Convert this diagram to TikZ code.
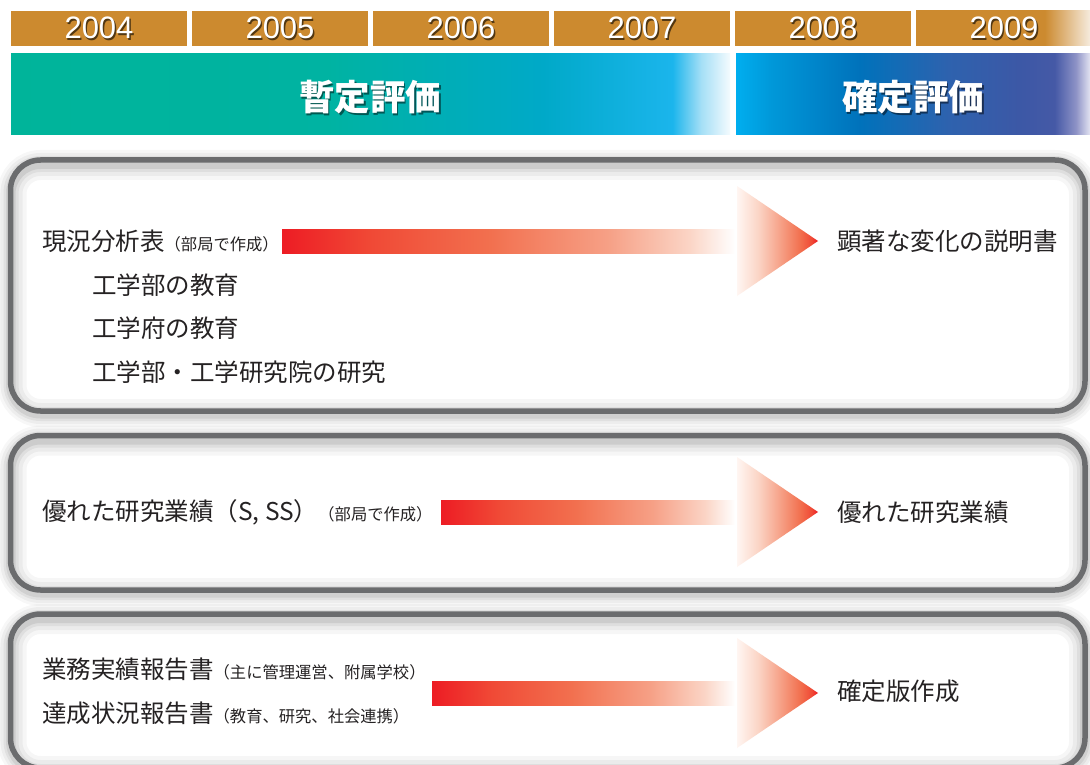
\documentclass[tikz,border=0pt]{standalone}
\usepackage{fontspec}
\setmainfont{Noto Sans CJK JP}
\newfontfamily\yearfont{Liberation Sans}
\definecolor{orangebar}{HTML}{CC8A2F}
\definecolor{txt}{HTML}{252223}
\definecolor{frame}{HTML}{6B6C6E}
\definecolor{redA}{HTML}{ED1C24}
\definecolor{tealA}{HTML}{00B49A}
\definecolor{tealB}{HTML}{00B3A2}
\definecolor{tealC}{HTML}{00A9C8}
\definecolor{cyanA}{HTML}{1BB5EC}
\definecolor{cyanB}{HTML}{A5DFF6}
\definecolor{cyanC}{HTML}{F4FBFE}
\definecolor{blueA}{HTML}{00AEEF}
\definecolor{blueB}{HTML}{0098D9}
\definecolor{blueC}{HTML}{0072BB}
\definecolor{blueD}{HTML}{2E62AE}
\definecolor{blueE}{HTML}{3C58A6}
\definecolor{blueF}{HTML}{4559A6}
\definecolor{blueG}{HTML}{8D92C6}
\definecolor{blueH}{HTML}{E2E3F1}
\definecolor{orangefade}{HTML}{F6EBDD}
\definecolor{redB}{HTML}{F04A36}
\definecolor{redC}{HTML}{F2704F}
\definecolor{redD}{HTML}{F6A086}
\definecolor{redE}{HTML}{FBD5C6}
\definecolor{redF}{HTML}{FFF6F2}
\pgfdeclarehorizontalshading{tealbar}{100bp}{color(0bp)=(tealA); color(25bp)=(tealA); color(47bp)=(tealB); color(62bp)=(tealC); color(71bp)=(cyanA); color(73bp)=(cyanB); color(75bp)=(cyanC); color(100bp)=(cyanC)}
\pgfdeclarehorizontalshading{bluebar}{100bp}{color(0bp)=(blueA); color(25bp)=(blueA); color(30bp)=(blueB); color(42.5bp)=(blueC); color(55bp)=(blueD); color(65bp)=(blueE); color(70bp)=(blueF); color(73bp)=(blueG); color(75bp)=(blueH); color(100bp)=(blueH)}
\pgfdeclarehorizontalshading{lastyear}{100bp}{color(0bp)=(orangebar); color(25bp)=(orangebar); color(62bp)=(orangebar); color(75bp)=(orangefade); color(100bp)=(orangefade)}
\pgfdeclarehorizontalshading{redbar}{100bp}{color(0bp)=(redA); color(25bp)=(redA); color(35bp)=(redB); color(48bp)=(redC); color(61bp)=(redD); color(70bp)=(redE); color(75bp)=(white); color(100bp)=(white)}
\pgfdeclarehorizontalshading{redtri}{100bp}{color(0bp)=(redF); color(25bp)=(redF); color(38bp)=(redE); color(52bp)=(redD); color(64bp)=(redC); color(71bp)=(redB); color(75bp)=(redA); color(100bp)=(redA)}
\newcommand\sm[1]{{\fontsize{16.3}{17}\selectfont #1}}
\newcommand\mypanel[2]{%
  \foreach \w/\o in {26/0.03,20/0.04,14/0.05,9/0.07}{%
    \draw[line width=\w pt, black, opacity=\o, rounded corners=30pt] (10.5,{#1+3}) rectangle (1085,{#2+3});}
  \fill[white, rounded corners=30pt] (10.5,#1) rectangle (1085,#2);
  \begin{scope}
    \clip[rounded corners=30pt] (10.5,#1) rectangle (1085,#2);
    \foreach \w/\o in {32/0.035,24/0.045,16/0.055,10/0.08}{%
      \draw[line width=\w pt, black, opacity=\o, rounded corners=30pt] (10.5,{#1+4}) rectangle (1085,{#2+4});}
  \end{scope}
  \draw[frame, line width=5.5pt, rounded corners=30pt] (10.5,#1) rectangle (1085,#2);
}
\newcommand\redarrow[2]{%
  \shade[shading=redbar] (#1,{#2-12}) rectangle (735,{#2+12});
  \shade[shading=redtri] (737,{#2-55}) -- (818,#2) -- (737,{#2+55}) -- cycle;
}
\tikzset{
  yr/.style={inner sep=0, text=white, font=\yearfont\fontsize{31}{33}\selectfont},
  yrshadow/.style={inner sep=0, text=black, opacity=0.6, font=\yearfont\fontsize{31}{33}\selectfont},
  ttl/.style={inner sep=0, text=white, font=\bfseries\fontsize{35.5}{37}\selectfont},
  ttlshadow/.style={inner sep=0, text=black, opacity=0.5, font=\bfseries\fontsize{35.5}{37}\selectfont},
  main/.style={anchor=west, inner sep=0, text=txt, font=\fontsize{24.5}{26}\selectfont},
}
\begin{document}
\begin{tikzpicture}[x=1pt,y=-1pt]
\useasboundingbox (0,0) rectangle (1090,765);
\clip (0,0) rectangle (1090,765);
\fill[white] (0,0) rectangle (1090,765);
% year bars
\foreach \x in {11,192,373,554,735} \fill[orangebar] (\x,11) rectangle ({\x+176},46);
\shade[shading=lastyear] (916,11) rectangle (1090,46);
\foreach \n/\x in {2004/99,2005/280,2006/461,2007/642,2008/823,2009/1004}{%
  \node[yrshadow] at ({\x+1.3},29.8) {\n};
  \node[yr] (y\n) at (\x,28) {\n};}
% evaluation bars
\shade[shading=tealbar] (11,54) rectangle (730,135);
\shade[shading=bluebar] (736,54) rectangle (1090,135);
\node[ttlshadow] at (371.8,98.8) {暫定評価};
\node[ttl] (prov) at (370,97) {暫定評価};
\node[ttlshadow] at (914.8,98.8) {確定評価};
\node[ttl] (final) at (913,97) {確定評価};
% panels
\mypanel{160}{411}
\mypanel{435.5}{590}
\mypanel{614}{768}
% panel 1
\redarrow{282}{241}
\node[main] (p1a) at (42,241) {現況分析表\sm{（部局で作成）}};
\node[main] (p1b) at (92,285) {工学部の教育};
\node[main] (p1c) at (92,328) {工学府の教育};
\node[main] (p1d) at (92,372) {工学部・工学研究院の研究};
\node[main] (p1r) at (837,241) {顕著な変化の説明書};
% panel 2
\redarrow{441}{512}
\node[main] (p2a) at (42,512) {優れた研究業績（S, SS）\sm{（部局で作成）}};
\node[main] (p2r) at (837,512) {優れた研究業績};
% panel 3
\redarrow{432}{693}
\node[main] (p3a) at (42,669) {業務実績報告書\sm{（主に管理運営、附属学校）}};
\node[main] (p3b) at (42,713) {達成状況報告書\sm{（教育、研究、社会連携）}};
\node[main] (p3r) at (837,691) {確定版作成};
\end{tikzpicture}
\end{document}
